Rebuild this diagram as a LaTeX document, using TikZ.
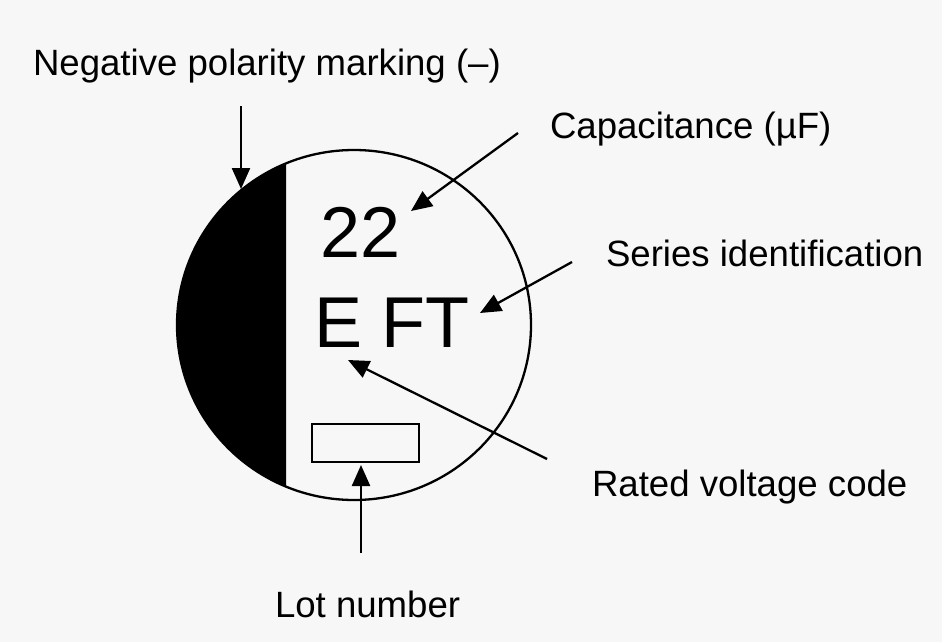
\documentclass[tikz,border=0pt]{standalone}
\usepackage{fontspec}
\setmainfont{Liberation Sans}
\usetikzlibrary{arrows.meta}
\definecolor{bg}{RGB}{247,247,247}
\tikzset{
  lbl/.style={anchor=base west, inner sep=0pt, outer sep=0pt, font=\fontsize{36.6}{44}\selectfont},
  big/.style={anchor=base west, inner sep=0pt, outer sep=0pt, font=\fontsize{72}{86}\selectfont},
  pointer/.style={line width=2.3pt, -{Triangle[length=21pt, width=18pt]}},
  outline/.style={line width=2.3pt}
}
\begin{document}
\begin{tikzpicture}[x=1pt, y=-1pt]
\useasboundingbox (0,0) rectangle (942,642);
\fill[bg] (0,0) rectangle (942,642);
% capacitor top view
\begin{scope}
  \clip (0,0) rectangle (286,642);
  \fill[black] (354,325) ellipse [x radius=177, y radius=175];
\end{scope}
\draw[outline] (354,325) ellipse [x radius=177, y radius=175];
\node[draw, outline, minimum width=107pt, minimum height=38pt, inner sep=0pt] (lot) at (365.5,443) {};
% markings
\node[big] (cap) at (320,257) {22};
\node[big] (eft) at (314,347) {E FT};
% labels
\node[lbl] (lneg) at (33,75) {Negative polarity marking (–)};
\node[lbl] (lcap) at (550,138) {Capacitance (µF)};
\node[lbl] (lser) at (606,266) {Series identification};
\node[lbl] (lvol) at (592,496) {Rated voltage code};
\node[lbl] (llot) at (275,617) {Lot number};
% arrow ends
\coordinate (negS) at (241,106);
\coordinate (negT) at (241,189);
\coordinate (capS) at (518,133);
\coordinate (capT) at (411,211);
\coordinate (serS) at (572,262);
\coordinate (serT) at (480,313);
\coordinate (volS) at (547,459);
\coordinate (volT) at (348,360);
\coordinate (lotS) at (361,553);
\coordinate (lotT) at (361,465);
\draw[pointer] (negS) -- (negT);
\draw[pointer] (capS) -- (capT);
\draw[pointer] (serS) -- (serT);
\draw[pointer] (volS) -- (volT);
\draw[pointer] (lotS) -- (lotT);
\end{tikzpicture}
\end{document}
